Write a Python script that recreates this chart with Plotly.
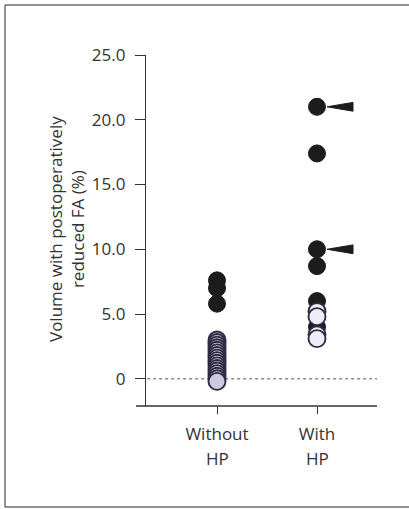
import plotly.graph_objects as go

# ---- data ----
categories = ["Without HP", "With HP"]
tick_line1 = ["Without", "With"]
tick_line2 = ["HP", "HP"]
y_tickvals = [0, 5, 10, 15, 20, 25]
y_ticktext = ["0", "5.0", "10.0", "15.0", "20.0", "25.0"]

without_filled = [7.6, 7.0, 5.8]
without_open = [3.0, 2.8, 2.6, 2.4, 2.2, 2.0, 1.8, 1.6, 1.4, 1.2, 1.0, 0.8,
                0.6, 0.4, 0.2, 0.0, -0.2]
with_filled = [21.0, 17.4, 10.0, 8.7, 6.0, 4.0]
with_open = [5.2, 4.8, 3.4, 3.1]
arrow_values = [21.0, 10.0]

# ---- layout constants ----
W, H = 409, 509
ML, MR, MT, MB = 146, 32, 55, 103
PW, PH = W - ML - MR, H - MT - MB
FONT = "Open Sans, Noto Sans, sans-serif"
TXT = "#333333"
FS = 17

def px_x(px):
    return (px - ML) / PW

def px_y(py):
    return (H - MB - py) / PH

fig = go.Figure()

open_marker = dict(size=17, color="#cdc8dd",
                   line=dict(color="#2f2a45", width=1.9))
filled_marker = dict(size=17, color="#1c1c1c", line=dict(color="#1c1c1c", width=1))

fig.add_trace(go.Scatter(x=[0] * len(without_filled), y=without_filled,
                         mode="markers", marker=filled_marker, showlegend=False))
fig.add_trace(go.Scatter(x=[1] * len(with_filled), y=with_filled,
                         mode="markers", marker=filled_marker, showlegend=False))
fig.add_trace(go.Scatter(x=[0] * len(without_open), y=without_open,
                         mode="markers", marker=open_marker, showlegend=False))
fig.add_trace(go.Scatter(x=[1] * len(with_open), y=with_open,
                         mode="markers", marker=dict(open_marker, color="#eeecf4"),
                         showlegend=False))

shapes = []
# zero dotted reference line
shapes.append(dict(type="line", xref="paper", yref="y", x0=0.005, x1=1, y0=0, y1=0,
                   line=dict(color="#8a8a8a", width=1.6, dash="dot"), layer="below"))
# x axis line (extends past y axis like the original)
shapes.append(dict(type="line", xref="paper", yref="paper", x0=px_x(136), x1=1, y0=0, y1=0,
                   line=dict(color="#333333", width=1.3)))
# arrow wedges pointing at highlighted values
for v in arrow_values:
    shapes.append(dict(type="path", xref="x", yref="y",
                       path=f"M 1.10 {v} L 1.36 {v + 0.34} L 1.36 {v - 0.34} Z",
                       fillcolor="#1c1c1c", line=dict(color="#1c1c1c", width=1)))
# outer frame: left, top and bottom edges (right edge is cut off in the original)
frame = dict(color="#6e6e6e", width=1.5)
shapes.append(dict(type="line", xref="paper", yref="paper", layer="below",
                   x0=px_x(5), x1=px_x(5), y0=px_y(507), y1=px_y(5), line=frame))
shapes.append(dict(type="line", xref="paper", yref="paper", layer="below",
                   x0=px_x(5), x1=px_x(409), y0=px_y(5), y1=px_y(5), line=frame))
shapes.append(dict(type="line", xref="paper", yref="paper", layer="below",
                   x0=px_x(5), x1=px_x(409), y0=px_y(507), y1=px_y(507), line=frame))

annotations = []
for i, t in enumerate(tick_line2):
    annotations.append(dict(x=i, y=px_y(458), xref="x", yref="paper", text=t,
                            showarrow=False, font=dict(family=FONT, size=FS, color=TXT),
                            xanchor="center", yanchor="middle"))
annotations.append(dict(x=px_x(66), y=px_y(229), xref="paper", yref="paper",
                        text="Volume with postoperatively<br>reduced FA (%)",
                        textangle=-90, showarrow=False,
                        font=dict(family=FONT, size=FS, color=TXT),
                        xanchor="center", yanchor="middle"))

fig.update_layout(
    width=W, height=H,
    margin=dict(l=ML, r=MR, t=MT, b=MB, autoexpand=False),
    paper_bgcolor="white", plot_bgcolor="white",
    font=dict(family=FONT, size=FS, color=TXT),
    shapes=shapes, annotations=annotations,
    xaxis=dict(range=[-0.71, 1.6], tickvals=[0, 1], ticktext=tick_line1,
               showgrid=False, zeroline=False, showline=False, automargin=False,
               ticks="outside", ticklen=7, tickcolor="#333333", tickwidth=1.3,
               ticklabelstandoff=6, fixedrange=True),
    yaxis=dict(range=[-2.1, 25], tickvals=y_tickvals, ticktext=y_ticktext,
               showgrid=False, zeroline=False, showline=True, linecolor="#333333",
               linewidth=1.3, ticks="outside", ticklen=10, tickcolor="#333333",
               tickwidth=1.3, ticklabelstandoff=6, automargin=False, fixedrange=True),
)

fig.write_html("out.html", config={"displayModeBar": False},
               post_script="document.body.style.margin='0';document.body.style.overflow='hidden';")
